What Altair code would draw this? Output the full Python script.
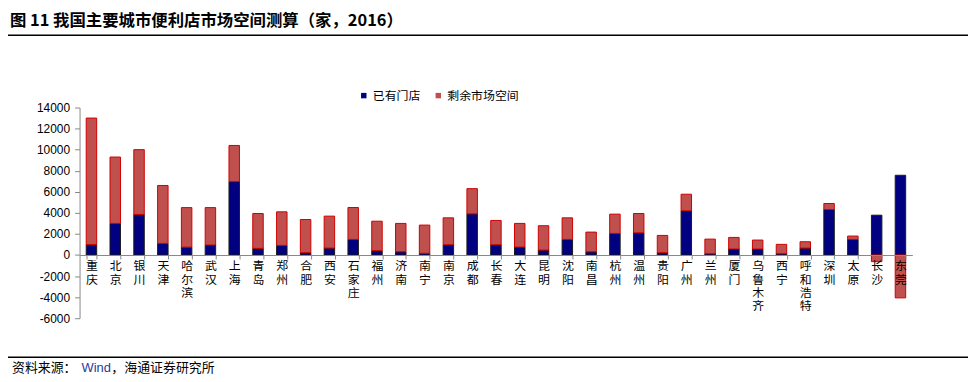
import altair as alt
import pandas as pd

cities = ["重庆", "北京", "银川", "天津", "哈尔滨", "武汉", "上海", "青岛", "郑州", "合肥",
          "西安", "石家庄", "福州", "济南", "南宁", "南京", "成都", "长春", "大连", "昆明",
          "沈阳", "南昌", "杭州", "温州", "贵阳", "广州", "兰州", "厦门", "乌鲁木齐", "西宁",
          "呼和浩特", "深圳", "太原", "长沙", "东莞"]
existing = [1000, 3000, 3850, 1100, 750, 950, 6970, 630, 915, 220,
            660, 1480, 410, 315, 160, 975, 3910, 975, 755, 470,
            1480, 315, 2050, 2110, 220, 4200, 125, 570, 570, 125,
            660, 4320, 1480, 3780, 7570]
remaining = [12000, 6300, 6150, 5500, 3750, 3550, 3430, 3310, 3185, 3150,
             3030, 3030, 2800, 2685, 2680, 2555, 2390, 2305, 2245, 2310,
             2050, 1860, 1830, 1830, 1640, 1570, 1385, 1100, 850, 885,
             600, 570, 320, -630, -4070]
series_names = ["已有门店", "剩余市场空间"]
y_ticks = [-6000, -4000, -2000, 0, 2000, 4000, 6000, 8000, 10000, 12000, 14000]

title_text = "图 11 我国主要城市便利店市场空间测算（家，2016）"
source_parts = ["资料来源：", "Wind", "，海通证券研究所"]

rows = []
for c, e, r in zip(cities, existing, remaining):
    rows.append({"city": c, "series": series_names[0], "value": e, "ord": 0})
    rows.append({"city": c, "series": series_names[1], "value": r, "ord": 1})
df = pd.DataFrame(rows)

CJK = "Noto Sans CJK SC"
LAT = "Liberation Sans"

bars = alt.Chart(df).mark_bar(strokeWidth=1).encode(
    x=alt.X("city:N", sort=cities,
            scale=alt.Scale(paddingInner=0.56, paddingOuter=0.28),
            axis=alt.Axis(title=None, labelAngle=0,
                          labelExpr="split(datum.label, '')",
                          labelFont=CJK, labelFontSize=12, labelLineHeight=13.3,
                          labelColor="black", labelPadding=2, labelOverlap=False,
                          tickSize=4, tickBand="extent", tickColor="#888888",
                          domainColor="#888888", offset=-63.6, zindex=1)),
    y=alt.Y("value:Q", stack="zero",
            scale=alt.Scale(domain=[-6000, 14000], nice=False, zero=False),
            axis=alt.Axis(title=None, values=y_ticks, grid=False,
                          labelExpr="toString(datum.value)",
                          labelFont=LAT, labelFontSize=12, labelColor="black",
                          labelPadding=5, tickSize=5, tickColor="#888888",
                          domainColor="#888888")),
    fill=alt.Fill("series:N",
                  scale=alt.Scale(domain=series_names, range=["#000080", "#C0504D"]),
                  legend=alt.Legend(title=None, orient="none", legendX=280, legendY=-18,
                                    direction="horizontal", symbolType="square",
                                    symbolSize=30, labelFont=CJK, labelFontSize=12,
                                    labelColor="black", labelOffset=3, columnPadding=11,
                                    symbolStrokeWidth=0)),
    stroke=alt.Stroke("series:N",
                      scale=alt.Scale(domain=series_names, range=["#1a1a1a", "#D00000"]),
                      legend=None),
    order=alt.Order("ord:Q"),
)

deco = alt.Data(values=[{"k": 1}])

title = alt.Chart(deco).mark_text(text=title_text, align="left", baseline="middle",
                                  font=CJK, fontSize=16.5, fontWeight="bold",
                                  color="black").encode(x=alt.value(-70), y=alt.value(-87))
rule_top = alt.Chart(deco).mark_rule(color="black", strokeWidth=1.5).encode(
    x=alt.value(-72), x2=alt.value(894), y=alt.value(-72.7))
rule_bot = alt.Chart(deco).mark_rule(color="black", strokeWidth=1.5).encode(
    x=alt.value(-72), x2=alt.value(894), y=alt.value(251.3))
src1 = alt.Chart(deco).mark_text(text=source_parts[0], align="left", baseline="middle",
                                 font=CJK, fontSize=13, color="black").encode(
    x=alt.value(-68), y=alt.value(262))
src2 = alt.Chart(deco).mark_text(text=source_parts[1], align="left", baseline="middle",
                                 font=LAT, fontSize=13, color="#1F3D99").encode(
    x=alt.value(2), y=alt.value(262))
src3 = alt.Chart(deco).mark_text(text=source_parts[2], align="left", baseline="middle",
                                 font=CJK, fontSize=13, color="black").encode(
    x=alt.value(32), y=alt.value(262))

chart = alt.layer(bars, title, rule_top, rule_bot, src1, src2, src3).properties(
    width=838, height=212,
    padding={"left": 72, "top": 99, "right": 56, "bottom": 58},
    autosize=alt.AutoSizeParams(type="none"),
    background="white",
).configure_view(stroke=None)

chart.save("out.html", embed_options={"renderer": "svg", "actions": False})
